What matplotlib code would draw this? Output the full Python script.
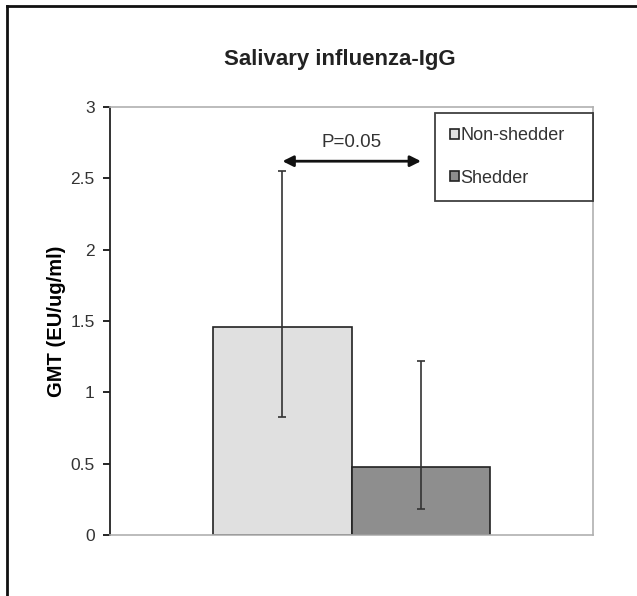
import numpy as np
import matplotlib.pyplot as plt
from matplotlib.lines import Line2D
from matplotlib.patches import Patch

plt.rcParams['font.family'] = ['Liberation Sans', 'DejaVu Sans']

groups = ["Non-shedder", "Shedder"]
gmt = [1.46, 0.475]
err_low = [0.83, 0.18]
err_high = [2.55, 1.22]
colors = ["#e0e0e0", "#8e8e8e"]
p_text = "P=0.05"
p_level = 2.62

fig = plt.figure(figsize=(6.37, 5.96), dpi=100)
ax = fig.add_axes([0.1727, 0.1023, 0.7583, 0.7182])

x = np.arange(len(groups))
yerr = [np.array(gmt) - np.array(err_low), np.array(err_high) - np.array(gmt)]
ax.bar(x, gmt, width=1.0, color=colors, edgecolor="#222222", linewidth=1.2, zorder=2)
ax.errorbar(x, gmt, yerr=yerr, fmt="none", ecolor="#333333", elinewidth=1.2,
            capsize=3, capthick=1.2, zorder=3)

ax.set_xlim(-1.245, 2.242)
ax.set_ylim(0, 3)
ax.set_yticks(np.arange(0, 3.01, 0.5))
ax.set_yticklabels(["0", "0.5", "1", "1.5", "2", "2.5", "3"])
ax.set_xticks([])
ax.tick_params(axis="y", direction="out", length=5, width=1.2, labelsize=12.5,
               labelcolor="#333333", pad=6)
for s in ["top", "right", "bottom"]:
    ax.spines[s].set_color("#b0b0b0")
    ax.spines[s].set_linewidth(1.2)
ax.spines["left"].set_color("#222222")
ax.spines["left"].set_linewidth(1.3)

# p-value arrow
ax.annotate("", xy=(x[0], p_level), xytext=(x[1], p_level),
            arrowprops=dict(arrowstyle="<|-|>", color="#111111", lw=2,
                            mutation_scale=16, shrinkA=0, shrinkB=0))
ax.text((x[0] + x[1]) / 2, p_level + 0.07, p_text, ha="center", va="bottom",
        fontsize=13.5, color="#333333")

ax.set_ylabel("GMT (EU/ug/ml)", fontsize=14.5, fontweight="bold")
ax.yaxis.set_label_coords(-0.092, 0.5)
fig.text(0.534, 0.9, "Salivary influenza-IgG", ha="center", va="center",
         fontsize=16, fontweight="bold", color="#222222")

handles = [Patch(facecolor=c, edgecolor="#222222", linewidth=1.2) for c in colors]
leg = ax.legend(handles, groups, loc="upper left",
                bbox_to_anchor=(0.673, 0.5, 0.327, 0.486), mode="expand",
                frameon=True, fancybox=False, fontsize=13, handlelength=0.5,
                handleheight=0.5, handletextpad=0.1, labelspacing=1.4,
                borderpad=0.8, borderaxespad=0)
leg.get_frame().set_edgecolor("#111111")
leg.get_frame().set_linewidth(1.3)
for t in leg.get_texts():
    t.set_color("#333333")

# outer frame (left and top edges)
fig.add_artist(Line2D([7 / 637, 7 / 637], [0, 1 - 6 / 596], color="#111111", lw=2))
fig.add_artist(Line2D([7 / 637, 1], [1 - 6 / 596, 1 - 6 / 596], color="#111111", lw=2))

fig.savefig("out.png", dpi=100)
